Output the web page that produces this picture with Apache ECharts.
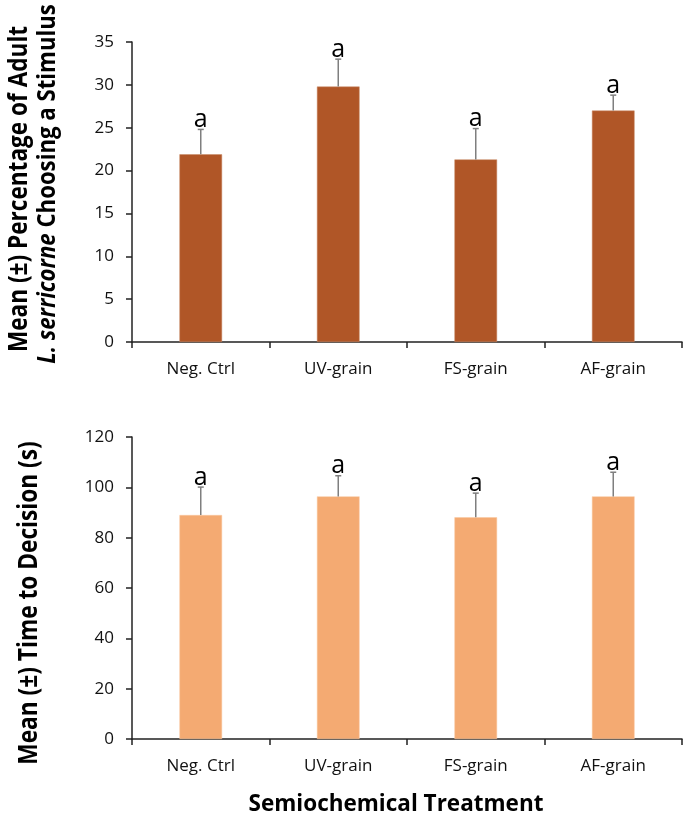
<!DOCTYPE html>
<html>
<head>
<meta charset="utf-8">
<script src="https://cdn.jsdelivr.net/npm/echarts@6/dist/echarts.min.js"></script>
<style>html,body{margin:0;padding:0;background:#fff}#c{width:685px;height:820px}</style>
</head>
<body>
<div id="c"></div>
<script>
var categories = ['Neg. Ctrl', 'UV-grain', 'FS-grain', 'AF-grain'];
var pctMeans = [21.9, 29.8, 21.3, 27.0];
var pctSE = [2.9, 3.2, 3.6, 1.8];
var pctLetters = ['a', 'a', 'a', 'a'];
var timeMeans = [89.0, 96.4, 88.1, 96.4];
var timeSE = [11.1, 8.2, 9.6, 9.6];
var timeLetters = ['a', 'a', 'a', 'a'];
var pctTicks = [0, 35, 5];
var timeTicks = [0, 120, 20];

var FONT = '"Open Sans", "Noto Sans", sans-serif';

function errData(means, se) {
  return means.map(function (m, i) { return [i, m, m + se[i]]; });
}
var errDataLetters = { 2: pctLetters, 3: timeLetters };
function renderErr(params, api) {
  var x = api.value(0), v = api.value(1), e = api.value(2);
  var letter = errDataLetters[params.seriesIndex][params.dataIndex];
  var p0 = api.coord([x, v]);
  var p1 = api.coord([x, e]);
  return {
    type: 'group',
    children: [
      { type: 'line', shape: { x1: p0[0], y1: p0[1], x2: p1[0], y2: p1[1] }, style: { stroke: '#7f7f7f', lineWidth: 1.5 } },
      { type: 'line', shape: { x1: p1[0] - 3, y1: p1[1], x2: p1[0] + 3, y2: p1[1] }, style: { stroke: '#7f7f7f', lineWidth: 1.5 } },
      { type: 'text', x: p1[0], y: p1[1] + 3, style: { text: letter, align: 'center', verticalAlign: 'bottom', fontSize: 25, fontFamily: FONT, fill: '#000' } }
    ]
  };
}

function xAxis(idx) {
  return {
    type: 'category', gridIndex: idx, data: categories,
    axisLine: { lineStyle: { color: '#222', width: 1.5 } },
    axisTick: { show: true, length: 6, lineStyle: { color: '#222', width: 1.5 } },
    axisLabel: { color: '#111', fontSize: 17, fontFamily: FONT, margin: 19 }
  };
}
function yAxis(idx, t) {
  return {
    type: 'value', gridIndex: idx, min: t[0], max: t[1], interval: t[2],
    axisLine: { show: true, lineStyle: { color: '#222', width: 1.5 } },
    axisTick: { show: true, length: 6, lineStyle: { color: '#222', width: 1.5 } },
    splitLine: { show: false },
    axisLabel: { color: '#111', fontSize: 17, fontFamily: FONT, margin: 18 }
  };
}

var chart = echarts.init(document.getElementById('c'));
chart.setOption({
  animation: false,
  grid: [
    { left: 132, right: 3, top: 42, height: 300 },
    { left: 132, right: 3, top: 437, height: 302 }
  ],
  xAxis: [xAxis(0), xAxis(1)],
  yAxis: [yAxis(0, pctTicks), yAxis(1, timeTicks)],
  series: [
    { type: 'bar', xAxisIndex: 0, yAxisIndex: 0, data: pctMeans, barWidth: '31%', itemStyle: { color: '#B05627', borderColor: '#c98a66', borderWidth: 0.5 } },
    { type: 'bar', xAxisIndex: 1, yAxisIndex: 1, data: timeMeans, barWidth: '31%', itemStyle: { color: '#F4AA72', borderColor: '#f8c8a0', borderWidth: 0.5 } },
    { type: 'custom', xAxisIndex: 0, yAxisIndex: 0, data: errData(pctMeans, pctSE), renderItem: renderErr, z: 5 },
    { type: 'custom', xAxisIndex: 1, yAxisIndex: 1, data: errData(timeMeans, timeSE), renderItem: renderErr, z: 5 }
  ],
  graphic: [
    { type: 'text', x: 20, y: 189, rotation: Math.PI / 2, scaleY: 1.15,
      style: { text: 'Mean (±) Percentage of Adult', align: 'center', verticalAlign: 'middle', fontSize: 22.6, fontWeight: 'bold', fontFamily: FONT, fill: '#000' } },
    { type: 'text', x: 48, y: 184, rotation: Math.PI / 2, scaleY: 1.15,
      style: { text: '{i|L. serricorne }{b|Choosing a Stimulus}', align: 'center', verticalAlign: 'middle', fill: '#000',
        rich: { i: { fontSize: 22.2, fontWeight: 'bold', fontStyle: 'italic', fontFamily: FONT }, b: { fontSize: 22.2, fontWeight: 'bold', fontFamily: FONT } } } },
    { type: 'text', x: 30, y: 603, rotation: Math.PI / 2, scaleY: 1.15,
      style: { text: 'Mean (±) Time to Decision (s)', align: 'center', verticalAlign: 'middle', fontSize: 22.7, fontWeight: 'bold', fontFamily: FONT, fill: '#000' } },
    { type: 'text', x: 396, y: 805,
      style: { text: 'Semiochemical Treatment', align: 'center', verticalAlign: 'middle', fontSize: 22.5, fontWeight: 'bold', fontFamily: FONT, fill: '#000' } }
  ]
});
</script>
</body>
</html>
